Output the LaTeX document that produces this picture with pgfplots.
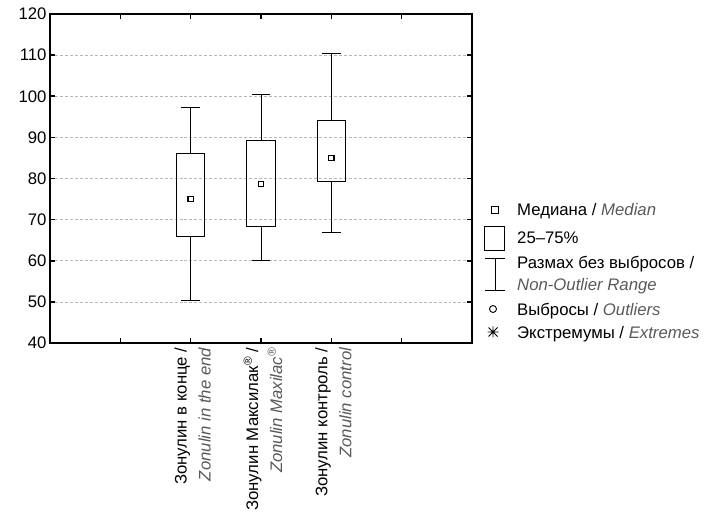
\documentclass[border=0pt]{standalone}
\usepackage{pgfplots}
\pgfplotsset{compat=1.18}
\usepgfplotslibrary{statistics}
\usepackage{fontspec}
\setmainfont{Liberation Sans}
\definecolor{engray}{gray}{0.35}
\newcommand{\en}[1]{\textcolor{engray}{\textit{#1}}}
\newcommand{\fs}{\fontsize{16.8}{20}\selectfont}
\begin{document}
\begin{tikzpicture}
\useasboundingbox (-50bp,-176bp) rectangle (666bp,343bp);
\begin{axis}[
  at={(0,0)}, anchor=south west,
  scale only axis, width=422bp, height=329bp,
  xmin=0, xmax=6, ymin=40, ymax=120,
  xtick={1,2,3,4,5},
  xticklabels={,{Зонулин в конце /\\\en{Zonulin in the end}},{Зонулин Максилак\textsuperscript{®} /\\\en{Zonulin Maxilac\textsuperscript{®}}},{Зонулин контроль /\\\en{Zonulin control}},},
  xticklabel style={rotate=90, anchor=east, align=right, font=\fontsize{16.8}{24}\selectfont, xshift=-1bp, yshift=-2bp},
  ytick={40,50,...,120},
  yticklabel={\fs\pgfmathprintnumber[assume math mode=true]{\tick}},
  tick align=inside, major tick length=5bp,
  axis line style={line width=2bp},
  every tick/.style={black, line width=1.6bp},
  ymajorgrids, grid style={densely dashed, black!28, line width=0.6bp},
  boxplot/draw direction=y,
  boxplot/every median/.style={draw=none},
]
\addplot+[black, solid, line width=0.9bp, mark=none, forget plot,
  boxplot prepared={draw position=2, lower whisker=50.3, lower quartile=66, median=75, upper quartile=86, upper whisker=97.2, box extend=0.4, whisker extend=0.27}] coordinates {};
\addplot+[black, solid, line width=0.9bp, mark=none, forget plot,
  boxplot prepared={draw position=3, lower whisker=60, lower quartile=68.3, median=78.7, upper quartile=89.2, upper whisker=100.5, box extend=0.4, whisker extend=0.27}] coordinates {};
\addplot+[black, solid, line width=0.9bp, mark=none, forget plot,
  boxplot prepared={draw position=4, lower whisker=67, lower quartile=79.3, median=85, upper quartile=94.1, upper whisker=110.4, box extend=0.4, whisker extend=0.27}] coordinates {};
\addplot[only marks, mark=square, mark size=2.6bp, mark options={black, line width=1.2bp}, forget plot]
  coordinates {(2,75) (3,78.7) (4,85)};
\end{axis}
% legend (decoration, outside the axis)
\begin{scope}[black]
\draw[line width=1bp] (441.5bp,129.5bp) rectangle (448.5bp,136.5bp);
\draw[line width=0.9bp] (434bp,93bp) rectangle (454bp,117bp);
\draw[line width=0.9bp] (435bp,85bp) -- (455bp,85bp) (445bp,85bp) -- (445bp,53bp) (435bp,53bp) -- (455bp,53bp);
\draw[line width=0.9bp] (443bp,34bp) circle (3.5bp);
\draw[line width=0.9bp] (437.5bp,11bp) -- (448.5bp,11bp) (443bp,5.5bp) -- (443bp,16.5bp) (438.5bp,6.5bp) -- (447.5bp,15.5bp) (438.5bp,15.5bp) -- (447.5bp,6.5bp);
\end{scope}
\begin{scope}[every node/.style={anchor=base west, inner sep=0pt, font=\fs}]
\node at (467bp,127bp) {Медиана / \en{Median}};
\node at (467bp,99bp) {25–75\%};
\node at (467bp,74bp) {Размах без выбросов /};
\node at (467bp,52bp) {\en{Non-Outlier Range}};
\node at (467bp,28bp) {Выбросы / \en{Outliers}};
\node at (467bp,5bp) {Экстремумы / \en{Extremes}};
\end{scope}
\end{tikzpicture}
\end{document}
